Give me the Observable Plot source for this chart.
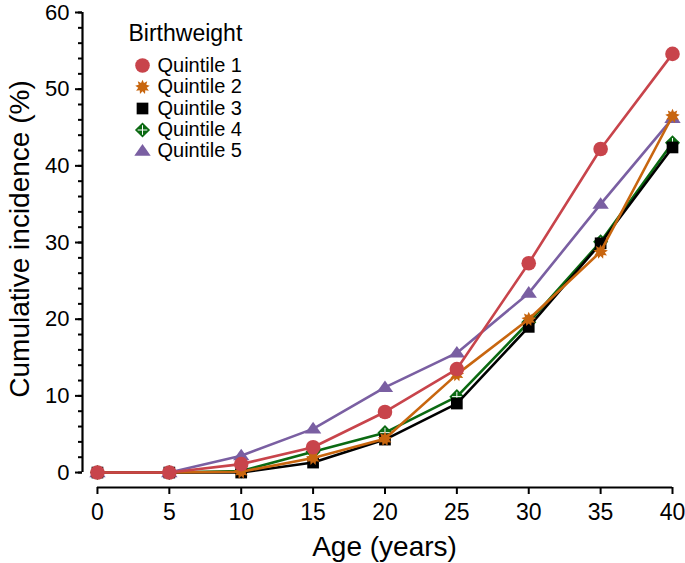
<!DOCTYPE html>
<html><head><meta charset="utf-8">
<script src="https://cdn.jsdelivr.net/npm/d3@7"></script>
<script src="https://cdn.jsdelivr.net/npm/@observablehq/plot@0.6"></script>
<style>body{margin:0;background:#fff}</style>
</head><body><div id="chart"></div>
<script>
// ---- data ----
const ages = [0, 5, 10, 15, 20, 25, 30, 35, 40];
const quintile1 = [0, 0, 1.1, 3.3, 7.9, 13.5, 27.3, 42.2, 54.6];
const quintile2 = [0, 0, 0.1, 1.9, 4.4, 12.8, 20.0, 28.8, 46.5];
const quintile3 = [0, 0, 0.0, 1.3, 4.3, 9.0, 19.0, 29.9, 42.4];
const quintile4 = [0, 0, 0.2, 2.7, 5.2, 9.9, 19.6, 30.1, 43.0];
const quintile5 = [0, 0, 2.2, 5.7, 11.1, 15.6, 23.4, 35.0, 46.2];
const seriesNames = ["Quintile 1", "Quintile 2", "Quintile 3", "Quintile 4", "Quintile 5"];
const yTicks = [0, 10, 20, 30, 40, 50, 60];
const yMinorTicks = d3.range(0, 61, 2);
const xTicks = [0, 5, 10, 15, 20, 25, 30, 35, 40];
const legendTitle = "Birthweight";
const xLabel = "Age (years)";
const yLabel = "Cumulative incidence (%)";

// ---- styling ----
const colors = ["#c8444b", "#c8660f", "#000000", "#0b6a12", "#7a5fa2"];
const rOf = size => Math.sqrt(size / Math.PI);
const gearStar = {
  draw(ctx, size) {
    const r = rOf(size), n = 9;
    for (let i = 0; i < 2 * n; i++) {
      const a = i * Math.PI / n;
      const rr = i % 2 ? r * 0.62 : r * 1.05;
      const x = rr * Math.sin(a), y = -rr * Math.cos(a);
      if (i === 0) ctx.moveTo(x, y); else ctx.lineTo(x, y);
    }
    ctx.closePath();
  }
};
const squareDiamond = {
  draw(ctx, size) {
    const d = rOf(size) * 1.05;
    ctx.moveTo(0, -d); ctx.lineTo(d, 0); ctx.lineTo(0, d); ctx.lineTo(-d, 0); ctx.closePath();
  }
};
const flatTriangle = {
  draw(ctx, size) {
    const r = rOf(size);
    ctx.moveTo(0, -0.9 * r); ctx.lineTo(1.05 * r, 0.6 * r); ctx.lineTo(-1.05 * r, 0.6 * r); ctx.closePath();
  }
};
const symbols = ["circle", gearStar, "square", squareDiamond, flatTriangle];
const radii = [7.3, 7, 6.6, 7.2, 7.8];

const allSeries = [quintile1, quintile2, quintile3, quintile4, quintile5];
const rows = allSeries.map((vals, s) => ages.map((a, i) => ({age: a, value: vals[i], s})));

const xMin = -1.04, yMin = -1.95;
const W = 685, H = 563;
const mL = 82, mT = 12;
const font = "'Liberation Sans', Arial, sans-serif";

const marks = [];
// axes
marks.push(Plot.axisY({ticks: yMinorTicks, tickSize: 4, text: null, strokeWidth: 2, label: null}));
marks.push(Plot.axisY({ticks: yTicks, tickSize: 7, tickPadding: 6, strokeWidth: 2, fontSize: 22, label: null}));
marks.push(Plot.axisX({ticks: xTicks, tickSize: 7, tickPadding: 9, strokeWidth: 2, fontSize: 23, label: null}));
marks.push(Plot.ruleX([xMin], {y1: 0, y2: 60, strokeWidth: 2.2}));
marks.push(Plot.ruleY([yMin], {x1: 0, x2: 40, strokeWidth: 2.2}));
// axis titles
marks.push(Plot.text([yLabel], {frameAnchor: "left", textAnchor: "middle", lineAnchor: "middle", rotate: -90, dx: -62, dy: -11, fontSize: 28}));
marks.push(Plot.text([xLabel], {frameAnchor: "bottom", textAnchor: "middle", lineAnchor: "middle", dx: 7, dy: 60, fontSize: 28}));

// series, drawn bottom (5) to top (1)
for (let s = 4; s >= 0; s--) {
  marks.push(Plot.line(rows[s], {x: "age", y: "value", stroke: colors[s], strokeWidth: 2.6}));
  marks.push(Plot.dot(rows[s], {x: "age", y: "value", symbol: () => symbols[s], r: radii[s], fill: colors[s], stroke: "none"}));
  if (s === 3) {
    marks.push(Plot.dot(rows[s], {x: "age", y: "value", symbol: () => "plus", r: 3.2, stroke: "white", strokeWidth: 1}));
  }
}

// legend
marks.push(Plot.text([legendTitle], {frameAnchor: "top-left", dx: 46, dy: 21, textAnchor: "start", lineAnchor: "middle", fontSize: 23}));
const legendDy = [53, 74.5, 96, 117.5, 138.5];
seriesNames.forEach((name, s) => {
  marks.push(Plot.dot([name], {frameAnchor: "top-left", dx: 60, dy: legendDy[s], symbol: () => symbols[s], r: radii[s], fill: colors[s]}));
  if (s === 3) marks.push(Plot.dot([name], {frameAnchor: "top-left", dx: 60, dy: legendDy[s], symbol: () => "plus", r: 3.2, stroke: "white", strokeWidth: 1}));
  marks.push(Plot.text([name], {frameAnchor: "top-left", dx: 75, dy: legendDy[s], textAnchor: "start", lineAnchor: "middle", fontSize: 20}));
});

const chart = Plot.plot({
  width: W, height: H,
  marginLeft: mL, marginRight: 13, marginTop: mT, marginBottom: 76,
  x: {domain: [xMin, 40]},
  y: {domain: [yMin, 60]},
  symbol: {type: "identity"},
  style: {fontFamily: font, color: "black", background: "white"},
  marks
});
document.getElementById("chart").appendChild(chart);
</script>
</body></html>
